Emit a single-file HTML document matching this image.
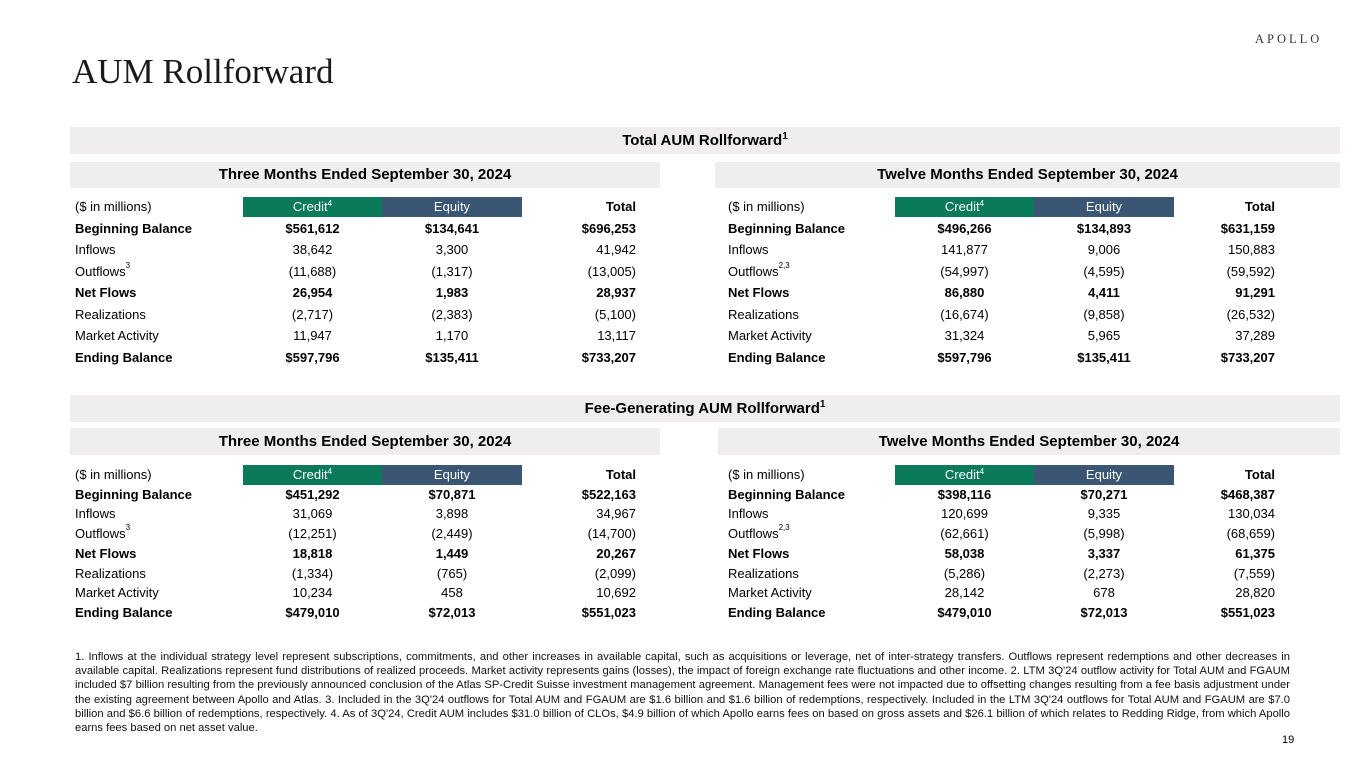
<!DOCTYPE html>
<html><head><meta charset="utf-8"><style>
*{margin:0;padding:0;box-sizing:border-box}
body{width:1365px;height:768px;background:#fff;position:relative;overflow:hidden;font-family:"Liberation Sans",Arial,sans-serif;color:#000}
.a{position:absolute}
.title{left:72px;top:52px;font-family:"Liberation Serif",serif;font-size:35px;color:#1a1a1a}
.logo{left:1255px;top:32px;font-family:"Liberation Serif",serif;font-size:12.5px;letter-spacing:3px;color:#333}
.band{background:#efeeec;font-weight:bold;font-size:15px;text-align:center}
.band sup{font-size:10px;top:-4px}
.hc{color:#fff;font-size:13px;text-align:center;height:20px;line-height:20px}
.cr{background:#0a7a5a}.eq{background:#3a5673}
.t{font-size:13px;position:absolute;white-space:nowrap}
.b{font-weight:bold}
sup{font-size:8px;vertical-align:top;position:relative;top:-3px}
.fn{left:75px;top:650px;width:1215px;font-size:11.2px;line-height:14.2px;text-align:justify;color:#111}
</style></head><body>
<div class="a title">AUM Rollforward</div>
<div class="a logo">APOLLO</div>

<div class="a band" style="left:70px;top:127px;width:1270px;height:27px;line-height:27px">Total AUM Rollforward<sup>1</sup></div>
<div class="a band" style="left:70px;top:162px;width:590px;height:26px;line-height:26px">Three Months Ended September 30, 2024</div>
<div class="a band" style="left:715px;top:162px;width:625px;height:26px;line-height:26px">Twelve Months Ended September 30, 2024</div>

<div class="a band" style="left:70px;top:395px;width:1270px;height:27px;line-height:27px">Fee-Generating AUM Rollforward<sup>1</sup></div>
<div class="a band" style="left:70px;top:428px;width:590px;height:27px;line-height:27px">Three Months Ended September 30, 2024</div>
<div class="a band" style="left:718px;top:428px;width:622px;height:27px;line-height:27px">Twelve Months Ended September 30, 2024</div>

<div id="tables"></div>

<div class="a fn">1. Inflows at the individual strategy level represent subscriptions, commitments, and other increases in available capital, such as acquisitions or leverage, net of inter-strategy transfers. Outflows represent redemptions and other decreases in available capital. Realizations represent fund distributions of realized proceeds. Market activity represents gains (losses), the impact of foreign exchange rate fluctuations and other income. 2. LTM 3Q'24 outflow activity for Total AUM and FGAUM included $7 billion resulting from the previously announced conclusion of the Atlas SP-Credit Suisse investment management agreement. Management fees were not impacted due to offsetting changes resulting from a fee basis adjustment under the existing agreement between Apollo and Atlas. 3. Included in the 3Q'24 outflows for Total AUM and FGAUM are $1.6 billion and $1.6 billion of redemptions, respectively. Included in the LTM 3Q'24 outflows for Total AUM and FGAUM are $7.0 billion and $6.6 billion of redemptions, respectively. 4. As of 3Q'24, Credit AUM includes $31.0 billion of CLOs, $4.9 billion of which Apollo earns fees on based on gross assets and $26.1 billion of which relates to Redding Ridge, from which Apollo earns fees based on net asset value.</div>
<div class="a" style="left:1282px;top:734px;font-size:11px">19</div>

<script>
function tbl(x0,cx,tEnd,y0,dy,labels,data){
  let h='';
  h+=`<div class="a hc cr" style="left:${cx}px;top:${y0-10}px;width:139px">Credit<sup>4</sup></div>`;
  h+=`<div class="a hc eq" style="left:${cx+139}px;top:${y0-10}px;width:140px">Equity</div>`;
  h+=`<div class="t" style="left:${x0}px;top:${y0-8}px">($ in millions)</div>`;
  h+=`<div class="t b" style="left:${tEnd-100}px;width:100px;text-align:right;top:${y0-8}px">Total</div>`;
  labels.forEach((l,i)=>{
    const y=y0+dy*(i+1)-8, bold=[0,3,6].includes(i)?' b':'';
    h+=`<div class="t${bold}" style="left:${x0}px;top:${y}px">${l}</div>`;
    h+=`<div class="t${bold}" style="left:${cx}px;width:139px;text-align:center;top:${y}px">${data[i][0]}</div>`;
    h+=`<div class="t${bold}" style="left:${cx+139}px;width:140px;text-align:center;top:${y}px">${data[i][1]}</div>`;
    h+=`<div class="t${bold}" style="left:${tEnd-100}px;width:100px;text-align:right;top:${y}px">${data[i][2]}</div>`;
  });
  return h;
}
const L1=['Beginning Balance','Inflows','Outflows<sup>3</sup>','Net Flows','Realizations','Market Activity','Ending Balance'];
const L2=['Beginning Balance','Inflows','Outflows<sup>2,3</sup>','Net Flows','Realizations','Market Activity','Ending Balance'];
let h='';
h+=tbl(75,243,636,207,21.5,L1,[['$561,612','$134,641','$696,253'],['38,642','3,300','41,942'],['(11,688)','(1,317)','(13,005)'],['26,954','1,983','28,937'],['(2,717)','(2,383)','(5,100)'],['11,947','1,170','13,117'],['$597,796','$135,411','$733,207']]);
h+=tbl(728,895,1275,207,21.5,L2,[['$496,266','$134,893','$631,159'],['141,877','9,006','150,883'],['(54,997)','(4,595)','(59,592)'],['86,880','4,411','91,291'],['(16,674)','(9,858)','(26,532)'],['31,324','5,965','37,289'],['$597,796','$135,411','$733,207']]);
h+=tbl(75,243,636,475,19.7,L1,[['$451,292','$70,871','$522,163'],['31,069','3,898','34,967'],['(12,251)','(2,449)','(14,700)'],['18,818','1,449','20,267'],['(1,334)','(765)','(2,099)'],['10,234','458','10,692'],['$479,010','$72,013','$551,023']]);
h+=tbl(728,895,1275,475,19.7,L2,[['$398,116','$70,271','$468,387'],['120,699','9,335','130,034'],['(62,661)','(5,998)','(68,659)'],['58,038','3,337','61,375'],['(5,286)','(2,273)','(7,559)'],['28,142','678','28,820'],['$479,010','$72,013','$551,023']]);
document.getElementById('tables').innerHTML=h;
</script>
</body></html>
